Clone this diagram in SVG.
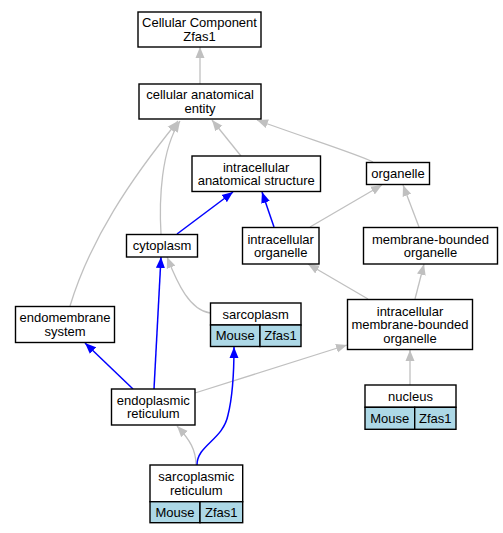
<svg xmlns="http://www.w3.org/2000/svg" width="503" height="533" viewBox="0 0 503 533">
<style>
  .box { fill: #ffffff; stroke: #000000; stroke-width: 1.4; }
  .cell { fill: #add8e6; stroke: #000000; stroke-width: 1.4; }
  text { font-family: "Liberation Sans", Arial, Helvetica, sans-serif; font-size: 13px; fill: #000000; text-anchor: middle; }
  .isa { fill: none; stroke: #c0c0c0; stroke-width: 1.3; marker-end: url(#ag); }
  .part { fill: none; stroke: #0000ff; stroke-width: 1.5; marker-end: url(#ab); }
</style>
<defs>
  <marker id="ag" markerUnits="userSpaceOnUse" markerWidth="12" markerHeight="10" refX="11" refY="4.5" orient="auto" viewBox="0 0 12 9">
    <path d="M0,0 L11,4.5 L0,9 z" fill="#c0c0c0"/>
  </marker>
  <marker id="ab" markerUnits="userSpaceOnUse" markerWidth="12" markerHeight="10" refX="11" refY="4.5" orient="auto" viewBox="0 0 12 9">
    <path d="M0,0 L11,4.5 L0,9 z" fill="#0000ff"/>
  </marker>
</defs>
<rect width="503" height="533" fill="#ffffff"/>
<g id="connectors">
  <path class="isa" d="M200,84 L200,47"/>
  <path class="isa" d="M241,156 L212,120"/>
  <path class="isa" d="M373,162 C360,155 300,136 257,120"/>
  <path class="isa" d="M161,234 C159,200 161,150 180,121"/>
  <path class="isa" d="M70,306 C90,240 130,180 178,121"/>
  <path class="part" d="M177,234 L233,192"/>
  <path class="part" d="M274,227 L262,192"/>
  <path class="isa" d="M310,227 L382,185"/>
  <path class="isa" d="M419,227 L403,185"/>
  <path class="isa" d="M368,299 L308,264"/>
  <path class="isa" d="M415,299 L424,264"/>
  <path class="isa" d="M210,313 C190,310 178,285 167,257"/>
  <path class="part" d="M154,389 L161,257"/>
  <path class="part" d="M133,389 L85,343"/>
  <path class="isa" d="M195,393 L347,345"/>
  <path class="isa" d="M410,385 L410,350"/>
  <path class="isa" d="M196,465 C196,450 190,440 177,426"/>
  <path class="part" d="M197,465 C197,445 223,440 228,415 C233,395 234,375 234,347"/>
</g>
<g id="cellular_component_zfas1">
  <rect class="box" x="138" y="12" width="123" height="35"/>
  <text x="199.5" y="27.25">Cellular Component</text>
  <text x="199.5" y="40.75">Zfas1</text>
</g>
<g id="cellular_anatomical_entity">
  <rect class="box" x="139" y="84" width="122" height="35"/>
  <text x="200" y="99.25">cellular anatomical</text>
  <text x="200" y="112.75">entity</text>
</g>
<g id="intracellular_anatomical_structure">
  <rect class="box" x="192" y="156" width="128.5" height="35.5"/>
  <text x="256.2" y="171.5">intracellular</text>
  <text x="256.2" y="185">anatomical structure</text>
</g>
<g id="organelle">
  <rect class="box" x="366.5" y="162.5" width="63" height="22"/>
  <text x="398" y="178">organelle</text>
</g>
<g id="cytoplasm">
  <rect class="box" x="126.5" y="234.5" width="71" height="22.5"/>
  <text x="162" y="250.2">cytoplasm</text>
</g>
<g id="intracellular_organelle">
  <rect class="box" x="242.5" y="227.5" width="76.5" height="36.5"/>
  <text x="280.7" y="243.5">intracellular</text>
  <text x="280.7" y="257">organelle</text>
</g>
<g id="membrane_bounded_organelle">
  <rect class="box" x="363.5" y="227.5" width="134" height="36.5"/>
  <text x="430.5" y="243.5">membrane-bounded</text>
  <text x="430.5" y="257">organelle</text>
</g>
<g id="endomembrane_system">
  <rect class="box" x="15.5" y="306.5" width="99" height="36"/>
  <text x="65" y="322.25">endomembrane</text>
  <text x="65" y="335.75">system</text>
</g>
<g id="sarcoplasm">
  <rect class="box" x="210.5" y="303" width="90.5" height="22"/>
  <rect class="cell" x="210.5" y="325" width="49.5" height="21.5"/>
  <rect class="cell" x="260" y="325" width="41" height="21.5"/>
  <text x="255.7" y="318.5">sarcoplasm</text>
  <text x="235.2" y="340.2">Mouse</text>
  <text x="280.5" y="340.2">Zfas1</text>
</g>
<g id="intracellular_membrane_bounded_organelle">
  <rect class="box" x="347.5" y="299.5" width="125" height="50"/>
  <text x="410" y="315.5">intracellular</text>
  <text x="410" y="329">membrane-bounded</text>
  <text x="410" y="342.5">organelle</text>
</g>
<g id="nucleus">
  <rect class="box" x="365" y="385" width="91" height="22.3"/>
  <rect class="cell" x="365" y="407.3" width="49.7" height="22"/>
  <rect class="cell" x="414.7" y="407.3" width="41.3" height="22"/>
  <text x="410.5" y="400.5">nucleus</text>
  <text x="389.8" y="422.5">Mouse</text>
  <text x="435.3" y="422.5">Zfas1</text>
</g>
<g id="endoplasmic_reticulum">
  <rect class="box" x="111.5" y="389" width="83.5" height="36"/>
  <text x="153.3" y="404.75">endoplasmic</text>
  <text x="153.3" y="418.25">reticulum</text>
</g>
<g id="sarcoplasmic_reticulum">
  <rect class="box" x="150" y="465" width="92.7" height="36.7"/>
  <rect class="cell" x="150" y="501.7" width="50" height="21"/>
  <rect class="cell" x="200" y="501.7" width="42.7" height="21"/>
  <text x="196.3" y="481">sarcoplasmic</text>
  <text x="196.3" y="494.5">reticulum</text>
  <text x="175" y="516.7">Mouse</text>
  <text x="221.3" y="516.7">Zfas1</text>
</g>
</svg>
